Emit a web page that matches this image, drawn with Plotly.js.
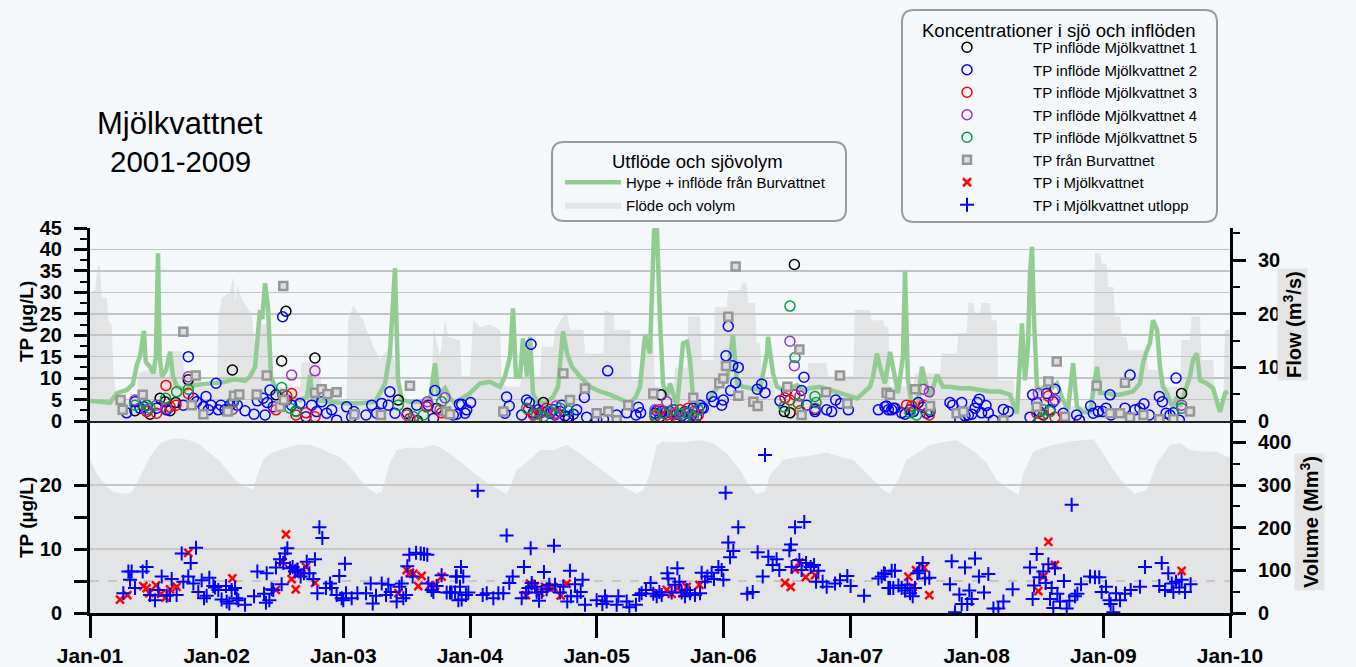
<!DOCTYPE html>
<html>
<head>
<meta charset="utf-8">
<script src="https://cdn.plot.ly/plotly-3.0.1.min.js"></script>
<style>
html,body{margin:0;padding:0;background:rgb(245,248,251);}
#chart{width:1356px;height:667px;}
</style>
</head>
<body>
<div id="chart"></div>
<script>
// ---------------- DATA (x = decimal year) ----------------
const xTickVals = [2001,2002,2003,2004,2005,2006,2007,2008,2009,2010];
const xTickText = ['Jan-01','Jan-02','Jan-03','Jan-04','Jan-05','Jan-06','Jan-07','Jan-08','Jan-09','Jan-10'];

// Hype + inflöde från Burvattnet (m3/s)
const hypeYear = [2001.000,2001.079,2001.158,2001.213,2001.292,2001.339,2001.370,2001.395,2001.426,2001.440,2001.474,2001.500,2001.520,2001.537,2001.550,2001.568,2001.600,2001.632,2001.655,2001.687,2001.750,2001.829,2001.947,2002.066,2002.145,2002.224,2002.263,2002.303,2002.342,2002.360,2002.382,2002.405,2002.429,2002.476,2002.539,2002.658,2002.713,2002.737,2002.760,2002.776,2002.895,2003.013,2003.132,2003.250,2003.289,2003.329,2003.368,2003.408,2003.432,2003.463,2003.526,2003.605,2003.684,2003.724,2003.750,2003.763,2003.803,2003.842,2003.882,2004.000,2004.079,2004.158,2004.237,2004.276,2004.316,2004.339,2004.363,2004.395,2004.418,2004.450,2004.474,2004.497,2004.529,2004.592,2004.655,2004.695,2004.734,2004.766,2004.805,2004.868,2004.947,2005.026,2005.105,2005.184,2005.263,2005.310,2005.342,2005.382,2005.421,2005.453,2005.476,2005.500,2005.524,2005.555,2005.579,2005.634,2005.682,2005.713,2005.737,2005.761,2005.816,2005.871,2005.918,2005.974,2006.029,2006.076,2006.108,2006.155,2006.211,2006.289,2006.345,2006.353,2006.392,2006.424,2006.471,2006.526,2006.582,2006.629,2006.684,2006.763,2006.842,2006.921,2007.000,2007.055,2007.103,2007.158,2007.182,2007.213,2007.237,2007.276,2007.316,2007.355,2007.379,2007.418,2007.434,2007.458,2007.489,2007.537,2007.568,2007.592,2007.632,2007.687,2007.734,2007.789,2007.868,2007.947,2008.026,2008.105,2008.184,2008.263,2008.287,2008.318,2008.342,2008.358,2008.382,2008.405,2008.421,2008.437,2008.453,2008.476,2008.500,2008.539,2008.579,2008.634,2008.682,2008.721,2008.761,2008.792,2008.839,2008.895,2008.950,2008.974,2009.029,2009.076,2009.132,2009.187,2009.234,2009.289,2009.313,2009.345,2009.368,2009.392,2009.424,2009.447,2009.471,2009.503,2009.526,2009.550,2009.582,2009.605,2009.629,2009.661,2009.684,2009.708,2009.739,2009.763,2009.818,2009.866,2009.897,2009.921,2009.961,2009.984];
const hypeFlow = [3.8,3.6,3.4,5.2,5.8,6.9,10.5,12.0,16.8,11.0,10.1,8.9,12.0,31.3,12.0,8.3,9.5,12.9,8.3,6.4,5.8,6.7,7.0,7.3,7.8,7.5,8.3,10.1,20.7,19.0,25.7,21.3,8.3,5.5,4.5,3.9,4.5,8.6,4.0,3.9,3.6,3.3,3.3,3.6,5.2,7.0,12.6,28.5,7.6,3.9,3.6,3.6,4.0,10.8,4.5,5.2,6.1,4.2,3.4,5.2,7.0,7.3,6.4,8.3,12.0,21.0,8.3,8.3,15.4,8.3,15.7,5.2,3.6,3.3,4.5,6.4,16.7,12.6,10.1,8.3,6.4,5.5,4.9,4.2,3.3,4.5,6.4,16.0,12.6,35.6,36.0,18.8,7.0,4.5,7.0,2.7,14.5,14.8,11.4,4.5,3.0,3.6,5.2,6.7,7.6,16.0,7.0,6.4,6.1,5.8,12.6,15.7,8.9,6.4,5.8,6.1,6.7,5.8,6.1,6.4,5.8,5.2,4.5,4.2,5.2,6.4,8.3,12.6,10.1,7.0,12.9,8.0,5.2,12.0,27.9,7.6,2.7,3.6,10.1,7.6,4.5,8.6,6.4,6.4,6.1,6.1,5.8,5.5,5.5,4.9,3.3,1.4,11.4,18.2,7.6,13.9,27.5,32.5,18.8,6.4,5.8,6.4,5.8,7.0,3.9,2.1,10.8,2.7,1.7,1.7,10.1,5.2,5.2,4.9,4.9,5.2,5.5,7.0,10.8,13.2,14.5,18.8,17.0,10.1,6.4,5.2,3.6,2.7,4.5,2.7,4.5,6.4,8.3,11.4,12.6,7.6,7.0,6.1,3.9,1.7,5.2,5.5];

// Flöde (measured outflow, m3/s)
const flowYear = [2001.000,2001.039,2001.061,2001.079,2001.092,2001.132,2001.145,2001.171,2001.184,2001.211,2001.368,2001.382,2001.526,2001.553,2001.618,2001.632,2001.724,2001.750,2001.868,2001.882,2002.000,2002.013,2002.039,2002.105,2002.132,2002.147,2002.163,2002.197,2002.237,2002.276,2002.303,2002.316,2002.342,2002.408,2002.434,2002.474,2002.658,2002.671,2002.816,2002.829,2003.026,2003.039,2003.079,2003.118,2003.158,2003.184,2003.237,2003.289,2003.368,2003.421,2003.447,2003.697,2003.711,2003.763,2003.803,2003.830,2003.921,2003.934,2004.000,2004.026,2004.079,2004.158,2004.237,2004.250,2004.289,2004.395,2004.408,2004.553,2004.566,2004.658,2004.671,2004.763,2004.789,2004.895,2004.908,2005.053,2005.066,2005.132,2005.145,2005.263,2005.276,2005.342,2005.355,2005.447,2005.461,2005.605,2005.618,2005.711,2005.724,2005.816,2005.829,2005.921,2005.934,2006.026,2006.039,2006.132,2006.145,2006.184,2006.197,2006.250,2006.263,2006.289,2006.303,2006.395,2006.408,2006.658,2006.671,2006.816,2006.829,2007.026,2007.039,2007.158,2007.171,2007.263,2007.276,2007.303,2007.316,2007.500,2007.513,2007.711,2007.724,2007.842,2007.855,2007.921,2007.934,2007.974,2007.987,2008.026,2008.039,2008.105,2008.118,2008.158,2008.171,2008.289,2008.303,2008.421,2008.434,2008.658,2008.671,2008.921,2008.934,2008.974,2008.987,2009.026,2009.039,2009.079,2009.092,2009.132,2009.145,2009.184,2009.197,2009.342,2009.355,2009.447,2009.461,2009.605,2009.618,2009.684,2009.697,2009.763,2009.776,2009.868,2009.882,2009.947,2009.961,2010.000];
const flowValue = [24,24.4,29,29,23,23,18.8,18,8.9,3.9,3.9,9,10,8.3,8.3,13,13,8.3,8,6.4,6.4,18.8,22.9,24,26.9,22,25.3,22.9,21.3,20,14,12,18,18,8.3,6.4,6.4,11,11,3.9,3.9,18.8,21.6,20,18.8,17,13.9,11.4,13.9,10,4,4,17.6,12,18.8,15.7,15,8.3,8.3,18.8,17.5,18,17,7.6,6.4,6.4,8.3,8.3,13.9,13.9,17,20.5,17,17,12.6,12.6,20.7,20,17,17,7.6,7.6,15,15,6.4,6.4,10,10,19.5,19.5,11.4,11.4,21.3,21.3,24.4,24.4,25.7,25.7,22,22,14.5,14.5,7.6,7.6,3.9,3.9,10.8,10.8,8.3,8.3,20.7,20.7,18.8,18.8,17.6,17.6,6.4,6.4,8.9,8.9,12.6,12.6,16.4,16.4,22,22,20,20,22,22,18.8,18.8,7.6,7.6,3.9,3.9,5.5,5.2,2.7,2.7,31.3,31.3,29.4,29.4,25,25,19.5,19.5,15.7,15.7,13.2,13.2,9.5,9.5,6.4,6.4,15.1,15.1,19.5,19.5,11.4,11.4,3.3,3.3,17,17];

// Sjövolym (Mm3)
const volYear = [2001.000,2001.053,2001.132,2001.184,2001.237,2001.316,2001.342,2001.395,2001.474,2001.553,2001.632,2001.711,2001.789,2001.868,2001.947,2002.026,2002.105,2002.158,2002.237,2002.289,2002.316,2002.368,2002.421,2002.500,2002.579,2002.658,2002.737,2002.816,2002.895,2002.974,2003.053,2003.132,2003.211,2003.263,2003.303,2003.368,2003.421,2003.500,2003.605,2003.711,2003.763,2003.842,2004.000,2004.158,2004.289,2004.329,2004.368,2004.474,2004.553,2004.658,2004.763,2004.868,2004.974,2005.079,2005.211,2005.316,2005.368,2005.421,2005.474,2005.526,2005.658,2005.816,2005.921,2006.026,2006.132,2006.211,2006.263,2006.329,2006.368,2006.474,2006.605,2006.711,2006.816,2006.921,2007.026,2007.158,2007.263,2007.316,2007.395,2007.447,2007.526,2007.632,2007.763,2007.842,2007.921,2008.000,2008.079,2008.158,2008.263,2008.329,2008.368,2008.447,2008.553,2008.737,2008.921,2009.000,2009.079,2009.184,2009.250,2009.342,2009.421,2009.526,2009.605,2009.684,2009.789,2009.895,2009.974,2010.000];
const volValue = [359,327,296,284,280,280,288,320,366,398,407,409,405,394,374,355,327,308,296,288,320,359,374,382,390,395,394,386,374,366,343,312,288,279,284,351,382,388,386,394,388,374,335,300,279,304,335,359,382,382,394,374,351,327,296,279,288,327,394,402,400,405,398,374,335,296,279,284,323,359,366,370,376,366,359,320,288,280,320,359,374,394,402,405,390,374,351,312,288,277,327,378,390,402,407,374,335,296,279,288,351,394,398,382,378,378,366,366];

// TP inflöde Mjölkvattnet 1..5 (µg/L)
const in1Year = [2001.355,2001.447,2001.474,2001.553,2001.592,2001.632,2001.676,2001.776,2002.124,2002.468,2002.513,2002.547,2002.626,2002.776,2003.434,2003.505,2003.584,2003.737,2004.579,2004.776,2005.508,2005.632,2006.482,2006.526,2006.561,2006.724,2009.618];
const in1TP = [2.4,3.7,1.6,5.3,4.5,2.4,4.3,9.6,11.9,6.1,14.0,25.6,2.3,14.7,4.9,1.8,0.1,2.9,4.3,0.4,6.1,0.0,2.2,1.9,36.5,2.7,6.4];

const in2Year = [2001.289,2001.355,2001.395,2001.426,2001.526,2001.605,2001.737,2001.776,2001.816,2001.842,2001.895,2001.916,2001.934,2001.955,2001.995,2002.013,2002.034,2002.066,2002.105,2002.132,2002.163,2002.224,2002.295,2002.321,2002.368,2002.382,2002.400,2002.421,2002.447,2002.521,2002.553,2002.592,2002.658,2002.705,2002.750,2002.789,2002.829,2002.868,2002.908,2002.947,2003.026,2003.066,2003.084,2003.179,2003.224,2003.263,2003.303,2003.355,2003.368,2003.408,2003.579,2003.671,2003.711,2003.724,2003.868,2003.895,2003.916,2003.934,2003.961,2003.974,2004.005,2004.276,2004.289,2004.310,2004.408,2004.447,2004.468,2004.482,2004.500,2004.539,2004.566,2004.605,2004.632,2004.658,2004.671,2004.711,2004.724,2004.750,2004.776,2004.816,2004.842,2004.903,2004.921,2005.000,2005.053,2005.087,2005.158,2005.237,2005.310,2005.329,2005.347,2005.461,2005.474,2005.500,2005.513,2005.539,2005.579,2005.605,2005.632,2005.671,2005.697,2005.724,2005.750,2005.763,2005.789,2005.816,2005.829,2005.842,2005.908,2005.926,2005.987,2006.000,2006.021,2006.039,2006.058,2006.074,2006.097,2006.118,2006.268,2006.303,2006.329,2006.447,2006.500,2006.618,2006.637,2006.658,2006.724,2006.816,2006.855,2006.887,2006.926,2006.987,2007.224,2007.276,2007.289,2007.303,2007.329,2007.342,2007.355,2007.408,2007.434,2007.474,2007.500,2007.539,2007.579,2007.605,2007.632,2007.789,2007.811,2007.868,2007.882,2007.908,2007.934,2007.961,2007.987,2008.005,2008.021,2008.039,2008.074,2008.092,2008.132,2008.211,2008.250,2008.421,2008.442,2008.474,2008.495,2008.526,2008.553,2008.579,2008.605,2008.618,2008.684,2008.789,2008.811,2008.900,2008.921,2008.961,2008.995,2009.021,2009.053,2009.061,2009.171,2009.211,2009.250,2009.289,2009.321,2009.363,2009.442,2009.466,2009.495,2009.526,2009.553,2009.574,2009.600];
const in2TP = [1.9,4.5,3.0,3.3,3.0,2.6,3.7,15.0,5.3,4.5,3.3,5.7,2.6,3.7,8.8,2.6,3.7,2.6,3.7,4.5,3.7,2.4,1.6,4.7,5.3,1.4,4.3,7.2,3.3,24.3,4.9,3.7,4.1,1.0,3.7,2.2,4.5,1.8,2.6,0.2,3.3,1.0,2.2,1.4,3.7,1.8,4.1,3.7,6.8,1.8,3.7,3.7,0.6,7.1,1.4,1.6,3.9,3.9,1.8,2.6,4.3,1.8,5.6,3.5,1.4,4.9,4.3,17.9,1.9,2.6,2.2,2.2,1.8,2.6,1.4,2.2,3.7,1.2,1.0,1.6,2.6,5.5,0.9,0.4,0.4,11.7,1.4,1.9,1.4,3.2,1.9,1.8,2.4,1.0,2.2,1.8,2.2,2.6,1.6,1.2,2.2,1.8,1.4,3.0,1.0,3.7,3.0,3.0,5.7,4.5,3.7,4.9,15.2,22.1,7.1,12.9,8.9,12.5,7.4,8.6,6.6,4.7,7.0,7.1,10.2,3.7,2.2,2.6,2.2,4.9,4.1,2.6,2.6,3.3,3.5,2.6,2.6,3.0,3.0,1.9,1.6,2.6,2.2,4.3,3.2,1.8,2.2,4.3,3.7,0.2,4.3,1.2,1.4,1.6,3.0,4.3,5.1,1.9,3.6,1.9,0.2,2.7,2.2,0.9,6.1,4.3,2.2,1.4,6.4,2.6,4.5,7.4,1.8,1.4,0.2,3.5,1.8,2.2,2.2,3.0,6.1,1.4,3.0,10.7,2.6,3.0,4.0,1.4,5.7,4.5,1.8,1.4,1.9,10.0,0.2];

const in3Year = [2001.447,2001.526,2001.600,2001.632,2001.679,2001.776,2002.126,2002.468,2002.553,2002.592,2002.626,2002.705,2002.776,2003.526,2003.658,2003.776,2004.461,2004.500,2004.553,2004.605,2004.684,2005.461,2005.500,2005.553,2005.605,2005.658,2005.724,2005.803,2006.487,2006.526,2006.566,2006.605,2007.447,2007.487,2007.579,2007.626,2008.474,2008.526,2008.566,2008.618];
const in3TP = [2.2,1.8,8.3,3.3,3.7,6.4,4.3,2.6,5.8,6.4,1.4,1.9,1.0,0.6,3.3,1.9,2.6,1.4,1.8,3.0,1.8,1.0,2.6,1.4,1.4,2.6,3.0,1.4,5.4,4.9,6.1,2.4,3.7,3.5,3.7,1.4,1.8,1.6,5.8,0.9];

const in4Year = [2001.355,2001.447,2001.526,2001.605,2001.776,2002.124,2002.521,2002.592,2002.776,2003.500,2003.553,2003.663,2003.763,2003.803,2004.526,2004.592,2004.671,2004.679,2005.461,2005.553,2005.605,2005.697,2005.763,2006.526,2006.561,2006.605,2006.724,2007.579,2007.626,2008.487,2008.618,2009.618];
const in4TP = [4.9,2.6,3.7,3.0,10.3,2.7,6.1,10.7,11.7,1.4,0.2,4.5,2.6,5.4,0.1,2.2,1.6,3.5,2.6,4.5,1.8,1.0,2.2,18.6,12.9,5.8,3.0,7.4,6.8,6.4,4.9,3.7];

const in5Year = [2001.355,2001.447,2001.474,2001.597,2001.684,2001.776,2002.126,2002.513,2002.579,2002.626,2003.434,2003.553,2003.632,2003.776,2004.447,2004.526,2004.579,2004.632,2004.711,2004.776,2005.461,2005.526,2005.605,2005.658,2005.711,2005.763,2005.803,2006.479,2006.526,2006.566,2006.592,2006.724,2006.732,2007.474,2007.526,2007.632,2008.500,2008.526,2008.579,2009.618];
const in5TP = [3.7,3.7,3.0,5.3,6.8,7.4,4.4,7.8,3.0,2.2,3.7,1.0,1.4,4.5,3.0,1.6,1.0,2.2,3.0,2.4,1.4,1.8,2.6,1.6,1.9,1.0,2.6,3.3,26.8,14.8,4.1,5.7,4.3,1.9,1.4,2.6,0.2,2.6,2.2,3.0];

// TP från Burvattnet
const burYear = [2001.242,2001.258,2001.416,2001.737,2001.803,2001.834,2001.895,2002.087,2002.137,2002.179,2002.316,2002.395,2002.500,2002.526,2002.530,2002.776,2002.829,2002.874,2002.947,2003.087,2003.297,2003.526,2003.811,2003.842,2004.263,2004.737,2004.789,2004.908,2005.000,2005.092,2005.158,2005.250,2005.447,2005.763,2005.968,2006.000,2006.021,2006.039,2006.097,2006.118,2006.237,2006.271,2006.505,2006.600,2006.618,2006.811,2006.921,2006.979,2007.289,2007.316,2007.513,2007.632,2007.842,2007.895,2008.211,2008.474,2008.566,2008.632,2008.697,2008.947,2009.053,2009.132,2009.171,2009.211,2009.316,2009.442,2009.553,2009.684];
const burTP = [4.9,2.6,6.1,20.8,3.7,10.6,1.6,2.2,5.9,6.2,6.2,10.6,3.3,31.5,4.9,6.6,7.4,6.3,6.7,1.6,1.4,8.2,2.2,1.6,2.2,11.1,4.9,7.6,1.8,2.2,0.2,3.7,6.4,5.4,8.8,9.9,12.8,24.3,36.0,5.9,4.5,3.5,8.0,16.7,1.4,6.7,10.6,4.1,6.6,6.1,7.4,3.5,1.8,2.2,0.2,3.3,9.2,13.9,1.0,8.2,1.8,1.8,8.9,0.8,1.4,0.4,0.4,2.2];

// TP i Mjölkvattnet (sjö)
const lakeYear = [2001.237,2001.295,2001.421,2001.447,2001.468,2001.521,2001.561,2001.597,2001.632,2001.684,2001.776,2002.124,2002.468,2002.521,2002.547,2002.592,2002.605,2002.624,2002.645,2002.671,2002.705,2002.776,2003.434,2003.500,2003.526,2003.553,2003.592,2003.618,2003.684,2003.724,2003.776,2004.442,2004.474,2004.513,2004.553,2004.592,2004.626,2004.658,2004.716,2004.763,2005.487,2005.553,2005.592,2005.637,2005.679,2005.711,2005.811,2006.487,2006.532,2006.566,2006.600,2006.650,2006.724,2007.461,2007.495,2007.521,2007.584,2007.626,2008.487,2008.526,2008.566,2008.618,2009.618];
const lakeTP = [2.1,2.8,4.2,3.9,3.1,4.3,3.0,2.4,3.7,4.1,9.4,5.4,3.6,8.0,12.3,5.3,7.1,3.7,6.3,6.1,7.2,4.7,3.1,6.7,6.3,6.1,4.2,5.8,4.3,4.3,5.7,2.8,4.6,4.2,3.2,4.1,3.9,4.1,2.7,4.6,3.1,3.6,3.0,3.9,3.1,4.1,4.4,4.7,4.1,6.8,7.9,5.6,5.9,5.7,4.1,6.7,7.1,2.8,3.4,5.7,11.1,7.5,6.6];

// TP i Mjölkvattnet utlopp
const outYear = [2001.263,2001.303,2001.316,2001.329,2001.355,2001.416,2001.447,2001.474,2001.513,2001.539,2001.566,2001.605,2001.632,2001.645,2001.684,2001.724,2001.737,2001.776,2001.795,2001.816,2001.837,2001.855,2001.882,2001.900,2001.921,2001.942,2001.974,2001.987,2002.013,2002.039,2002.074,2002.079,2002.100,2002.118,2002.145,2002.158,2002.171,2002.224,2002.295,2002.321,2002.374,2002.389,2002.395,2002.416,2002.434,2002.447,2002.468,2002.500,2002.513,2002.526,2002.539,2002.558,2002.579,2002.600,2002.618,2002.639,2002.663,2002.689,2002.711,2002.732,2002.763,2002.776,2002.795,2002.811,2002.834,2002.863,2002.895,2002.908,2002.947,2002.968,2002.987,2003.000,2003.013,2003.021,2003.066,2003.111,2003.179,2003.216,2003.232,2003.258,2003.303,2003.337,2003.355,2003.374,2003.421,2003.442,2003.461,2003.474,2003.495,2003.505,2003.521,2003.547,2003.574,2003.611,2003.637,2003.663,2003.671,2003.697,2003.711,2003.737,2003.776,2003.816,2003.842,2003.855,2003.882,2003.889,2003.895,2003.908,2003.921,2003.929,2003.934,2003.947,2003.968,2003.987,2004.061,2004.100,2004.132,2004.184,2004.224,2004.263,2004.289,2004.310,2004.337,2004.408,2004.426,2004.442,2004.461,2004.479,2004.487,2004.513,2004.526,2004.545,2004.566,2004.584,2004.605,2004.626,2004.663,2004.671,2004.711,2004.737,2004.768,2004.789,2004.797,2004.829,2004.847,2004.874,2004.889,2004.908,2005.000,2005.045,2005.066,2005.079,2005.158,2005.171,2005.237,2005.258,2005.310,2005.337,2005.355,2005.389,2005.426,2005.447,2005.474,2005.495,2005.513,2005.558,2005.566,2005.592,2005.618,2005.637,2005.653,2005.671,2005.697,2005.711,2005.737,2005.776,2005.816,2005.829,2005.855,2005.874,2005.908,2005.926,2005.961,2005.987,2006.000,2006.018,2006.039,2006.053,2006.079,2006.118,2006.189,2006.232,2006.271,2006.311,2006.329,2006.355,2006.389,2006.421,2006.442,2006.521,2006.534,2006.539,2006.566,2006.600,2006.618,2006.639,2006.653,2006.689,2006.716,2006.732,2006.750,2006.784,2006.816,2006.882,2006.921,2006.979,2007.005,2007.111,2007.224,2007.250,2007.268,2007.276,2007.303,2007.316,2007.329,2007.342,2007.355,2007.382,2007.408,2007.434,2007.453,2007.474,2007.495,2007.513,2007.532,2007.547,2007.574,2007.592,2007.626,2007.789,2007.803,2007.829,2007.863,2007.882,2007.908,2007.926,2007.942,2007.961,2007.987,2008.018,2008.058,2008.092,2008.132,2008.171,2008.211,2008.284,2008.421,2008.442,2008.453,2008.474,2008.495,2008.526,2008.545,2008.566,2008.579,2008.592,2008.605,2008.618,2008.637,2008.658,2008.689,2008.711,2008.732,2008.750,2008.776,2008.795,2008.824,2008.895,2008.934,2008.968,2008.987,2009.021,2009.047,2009.058,2009.079,2009.100,2009.132,2009.171,2009.216,2009.289,2009.329,2009.442,2009.461,2009.487,2009.513,2009.540,2009.553,2009.574,2009.600,2009.618,2009.645,2009.689];
const outTP = [3.1,6.5,5.2,6.5,3.9,6.5,7.2,2.8,2.0,3.6,5.7,2.7,2.8,5.3,2.8,9.3,4.9,5.7,7.8,4.6,10.2,3.3,5.1,2.3,2.7,5.5,4.2,4.0,3.6,2.1,4.2,1.8,1.5,3.6,3.9,2.3,2.0,1.3,2.6,6.5,3.0,1.6,6.2,2.0,3.7,3.6,7.1,8.4,4.5,7.8,9.3,10.1,7.0,7.2,6.5,6.8,5.7,6.2,8.0,6.2,5.3,8.4,3.1,13.4,11.7,3.9,4.6,3.9,2.8,5.8,2.3,2.0,7.7,3.1,2.3,3.1,3.1,4.6,1.5,2.7,4.6,2.8,4.4,3.3,1.8,4.1,4.6,2.3,2.8,7.3,9.1,5.7,9.4,9.3,9.2,9.1,4.6,3.6,3.3,4.2,5.9,3.2,3.2,3.2,3.2,5.7,5.7,2.0,4.1,7.2,2.1,5.7,2.8,3.2,19.1,2.8,3.1,2.3,3.1,3.1,12.1,4.7,5.7,2.3,7.2,3.2,3.9,10.1,4.7,4.1,3.2,1.9,3.3,6.4,3.7,4.4,10.5,4.4,3.2,4.1,1.8,6.6,2.6,4.5,2.6,3.3,5.2,1.3,2.0,1.4,2.6,1.8,1.3,2.6,1.8,0.9,1.3,2.8,3.1,3.6,4.7,3.0,2.6,3.3,2.8,6.2,5.4,3.2,4.4,7.0,4.9,3.2,2.6,3.6,3.1,2.8,3.1,6.3,4.9,5.7,6.3,5.3,7.2,6.7,5.2,18.8,11.0,8.7,9.7,13.4,3.0,3.3,9.5,5.7,24.7,8.8,7.5,8.4,6.7,9.8,10.7,7.2,13.4,8.3,6.7,14.2,7.8,7.2,7.5,4.9,6.6,4.9,4.1,4.6,5.1,5.8,4.2,2.7,5.4,5.7,6.2,6.1,3.9,3.9,6.6,3.9,6.6,4.3,3.9,3.5,4.4,3.1,2.6,3.9,6.2,6.6,7.8,5.4,5.5,4.5,8.1,0.1,2.9,1.4,7.1,1.4,3.5,2.2,8.5,5.7,3.2,6.1,0.7,0.7,1.8,3.7,7.1,2.2,4.3,9.2,5.6,6.5,4.7,7.6,2.2,3.9,0.8,7.0,3.0,1.8,5.0,0.7,1.9,16.9,2.6,3.0,4.5,5.7,5.6,5.6,3.3,4.1,2.0,1.4,0.1,3.1,2.0,3.0,3.6,4.1,7.2,4.2,7.8,3.6,6.2,4.6,3.3,4.9,4.0,5.2,3.3,4.5];

// ---------------- STYLE ----------------
const BG = 'rgb(245,248,251)';
const FONT = 'Arial, "Liberation Sans", sans-serif';
const tickFont = {family: FONT, size: 20, color: '#000', weight: 'bold'};
const FILL = 'rgba(200,200,200,0.42)';
const circle = (c) => ({symbol: 'circle-open', size: 10, color: c, line: {color: c, width: 1.5}});

const traces = [
  {x: flowYear, y: flowValue, xaxis: 'x2', yaxis: 'y', type: 'scatter', mode: 'lines',
   name: 'Flöde och volym', legend: 'legend', legendrank: 2, fill: 'tozeroy', fillcolor: FILL,
   line: {width: 0, color: FILL}, hoverinfo: 'skip'},
  {x: volYear, y: volValue, xaxis: 'x', yaxis: 'y3', type: 'scatter', mode: 'lines',
   name: 'Sjövolym', showlegend: false, fill: 'tozeroy', fillcolor: FILL,
   line: {width: 0, color: FILL}, hoverinfo: 'skip'},
  {x: hypeYear, y: hypeFlow, xaxis: 'x2', yaxis: 'y', type: 'scatter', mode: 'lines',
   name: 'Hype + inflöde från Burvattnet', legend: 'legend', legendrank: 1,
   line: {color: 'rgb(146,204,146)', width: 4.5}},
  {x: in1Year, y: in1TP, xaxis: 'x2', yaxis: 'y2', type: 'scatter', mode: 'markers',
   name: 'TP inflöde Mjölkvattnet 1', legend: 'legend2', marker: circle('#000000')},
  {x: in2Year, y: in2TP, xaxis: 'x2', yaxis: 'y2', type: 'scatter', mode: 'markers',
   name: 'TP inflöde Mjölkvattnet 2', legend: 'legend2', marker: circle('#0000ff')},
  {x: in3Year, y: in3TP, xaxis: 'x2', yaxis: 'y2', type: 'scatter', mode: 'markers',
   name: 'TP inflöde Mjölkvattnet 3', legend: 'legend2', marker: circle('#ff0000')},
  {x: in4Year, y: in4TP, xaxis: 'x2', yaxis: 'y2', type: 'scatter', mode: 'markers',
   name: 'TP inflöde Mjölkvattnet 4', legend: 'legend2', marker: circle('#9b30d0')},
  {x: in5Year, y: in5TP, xaxis: 'x2', yaxis: 'y2', type: 'scatter', mode: 'markers',
   name: 'TP inflöde Mjölkvattnet 5', legend: 'legend2', marker: circle('#00a040')},
  {x: burYear, y: burTP, xaxis: 'x2', yaxis: 'y2', type: 'scatter', mode: 'markers',
   name: 'TP från Burvattnet', legend: 'legend2',
   marker: {symbol: 'square', size: 8, color: '#dcdcdc', line: {color: '#969696', width: 2.5}}},
  {x: lakeYear, y: lakeTP, xaxis: 'x', yaxis: 'y4', type: 'scatter', mode: 'markers',
   name: 'TP i Mjölkvattnet', legend: 'legend2',
   marker: {symbol: 'x-thin-open', size: 8, color: '#ff0000', line: {color: '#ff0000', width: 2.5}}},
  {x: outYear, y: outTP, xaxis: 'x', yaxis: 'y4', type: 'scatter', mode: 'markers',
   name: 'TP i Mjölkvattnet utlopp', legend: 'legend2',
   marker: {symbol: 'cross-thin-open', size: 10, color: '#0000ff', line: {color: '#0000ff', width: 2}}}
];

// pixel helpers for decorations (plot area: x 90..1230, y 228..613)
function pX(px) { return (px - 90) / 1140; }
function pY(py) { return (613 - py) / 385; }
function roundBox(x0, y0, x1, y1, r) {
  const X = pX, Y = pY;
  return 'M' + X(x0 + r) + ',' + Y(y0) + ' L' + X(x1 - r) + ',' + Y(y0) +
    ' Q' + X(x1) + ',' + Y(y0) + ' ' + X(x1) + ',' + Y(y0 + r) +
    ' L' + X(x1) + ',' + Y(y1 - r) + ' Q' + X(x1) + ',' + Y(y1) + ' ' + X(x1 - r) + ',' + Y(y1) +
    ' L' + X(x0 + r) + ',' + Y(y1) + ' Q' + X(x0) + ',' + Y(y1) + ' ' + X(x0) + ',' + Y(y1 - r) +
    ' L' + X(x0) + ',' + Y(y0 + r) + ' Q' + X(x0) + ',' + Y(y0) + ' ' + X(x0 + r) + ',' + Y(y0) + ' Z';
}

const axisCommon = {showline: true, linecolor: '#000', linewidth: 3, ticks: 'outside', tickcolor: '#000',
  tickwidth: 3, ticklen: 13, zeroline: false, tickfont: tickFont, ticklabelstandoff: 8};

const layout = {
  width: 1356, height: 667,
  paper_bgcolor: BG, plot_bgcolor: 'rgba(0,0,0,0)',
  margin: {l: 90, r: 126, t: 228, b: 54, autoexpand: false},
  font: {family: FONT, color: '#000'},
  showlegend: true,
  xaxis: Object.assign({}, axisCommon, {domain: [0, 1], anchor: 'y3', range: [2001, 2010],
    tickmode: 'array', tickvals: xTickVals, ticktext: xTickText, ticklen: 22, showgrid: false,
    tickfont: {family: FONT, size: 21, color: '#000', weight: 'bold'}, ticklabelstandoff: 0}),
  xaxis2: {matches: 'x', anchor: 'y', domain: [0, 1], showticklabels: false, ticks: '',
    showline: true, linecolor: '#222', linewidth: 2, showgrid: false, zeroline: false},
  // top panel: flow (base, right) and TP (overlay, left)
  yaxis: Object.assign({}, axisCommon, {domain: [0.4987, 1], anchor: 'x2', side: 'right',
    range: [0, 36], dtick: 10, tick0: 0, showgrid: false,
    minor: {dtick: 5, ticks: 'outside', ticklen: 7, tickwidth: 2, tickcolor: '#000', showgrid: false}}),
  yaxis2: Object.assign({}, axisCommon, {overlaying: 'y', anchor: 'x2', side: 'left',
    range: [0, 45], dtick: 5, tick0: 0, showgrid: true, gridcolor: '#c2c2c2', gridwidth: 1.5,
    minor: {dtick: 2.5, ticks: 'outside', ticklen: 7, tickwidth: 2, tickcolor: '#000', showgrid: false}}),
  // bottom panel: volume (base, right) and TP (overlay, left)
  yaxis3: Object.assign({}, axisCommon, {domain: [0, 0.4987], anchor: 'x', side: 'right',
    range: [0, 450], dtick: 100, tick0: 0, showgrid: false,
    minor: {dtick: 50, ticks: 'outside', ticklen: 7, tickwidth: 2, tickcolor: '#000', showgrid: false}}),
  yaxis4: Object.assign({}, axisCommon, {overlaying: 'y3', anchor: 'x', side: 'left',
    range: [0, 30], tickmode: 'array', tickvals: [0, 10, 20], showgrid: true, gridcolor: '#c8c8c8', gridwidth: 1.5,
    minor: {tickmode: 'array', tickvals: [5, 15], ticks: 'outside', ticklen: 13, tickwidth: 3, tickcolor: '#000', showgrid: false}}),
  legend: {x: pX(560), xanchor: 'left', y: pY(166), yanchor: 'top', bgcolor: 'rgba(0,0,0,0)',
    borderwidth: 0, itemwidth: 56, font: {family: FONT, size: 15, color: '#000'}, traceorder: 'normal'},
  legend2: {x: pX(901), xanchor: 'left', y: pY(31), yanchor: 'top', bgcolor: 'rgba(0,0,0,0)',
    borderwidth: 0, itemwidth: 122, font: {family: FONT, size: 15, color: '#000'}, traceorder: 'normal'},
  shapes: [
    {type: 'path', xref: 'paper', yref: 'paper', path: roundBox(552, 142, 846, 221, 12),
     line: {color: '#9a9a9a', width: 2}, fillcolor: 'rgba(0,0,0,0)', layer: 'above'},
    {type: 'path', xref: 'paper', yref: 'paper', path: roundBox(902, 10, 1217, 222, 12),
     line: {color: '#9a9a9a', width: 2}, fillcolor: 'rgba(0,0,0,0)', layer: 'above'},
    {type: 'line', xref: 'x', yref: 'y4', x0: 2001, x1: 2010, y0: 5, y1: 5,
     line: {color: '#b4b4b4', width: 1.5, dash: 'dash'}, layer: 'below'}
  ],
  annotations: [
    {text: 'Mjölkvattnet', xref: 'paper', yref: 'paper', x: pX(180), y: pY(123), showarrow: false,
     xanchor: 'center', yanchor: 'middle', font: {family: FONT, size: 31, color: '#000'}},
    {text: '2001-2009', xref: 'paper', yref: 'paper', x: pX(180), y: pY(162), showarrow: false,
     xanchor: 'center', yanchor: 'middle', font: {family: FONT, size: 29.5, color: '#000'}},
    {text: 'Utflöde och sjövolym', xref: 'paper', yref: 'paper', x: pX(697), y: pY(162), showarrow: false,
     xanchor: 'center', yanchor: 'middle', font: {family: FONT, size: 18.5, color: '#000'}},
    {text: 'Koncentrationer i sjö och inflöden', xref: 'paper', yref: 'paper', x: pX(1059), y: pY(30), showarrow: false,
     xanchor: 'center', yanchor: 'middle', font: {family: FONT, size: 18.5, color: '#000'}},
    {text: 'TP (µg/L)', xref: 'paper', yref: 'paper', x: pX(26), y: pY(322), showarrow: false, textangle: -90,
     xanchor: 'center', yanchor: 'middle', font: {family: FONT, size: 19, color: '#000', weight: 'bold'}},
    {text: 'TP (µg/L)', xref: 'paper', yref: 'paper', x: pX(26), y: pY(518), showarrow: false, textangle: -90,
     xanchor: 'center', yanchor: 'middle', font: {family: FONT, size: 19, color: '#000', weight: 'bold'}},
    {text: 'Flow (m<sup>3</sup>/s)', xref: 'paper', yref: 'paper', x: pX(1292), y: pY(325), showarrow: false, textangle: -90,
     xanchor: 'center', yanchor: 'middle', bgcolor: '#e4e4e4', borderpad: 2,
     font: {family: FONT, size: 20, color: '#000', weight: 'bold'}},
    {text: 'Volume (Mm<sup>3</sup>)', xref: 'paper', yref: 'paper', x: pX(1309), y: pY(522), showarrow: false, textangle: -90,
     xanchor: 'center', yanchor: 'middle', bgcolor: '#e4e4e4', borderpad: 2,
     font: {family: FONT, size: 20, color: '#000', weight: 'bold'}}
  ]
};

Plotly.newPlot('chart', traces, layout, {displayModeBar: false, staticPlot: true});
</script>
</body>
</html>
